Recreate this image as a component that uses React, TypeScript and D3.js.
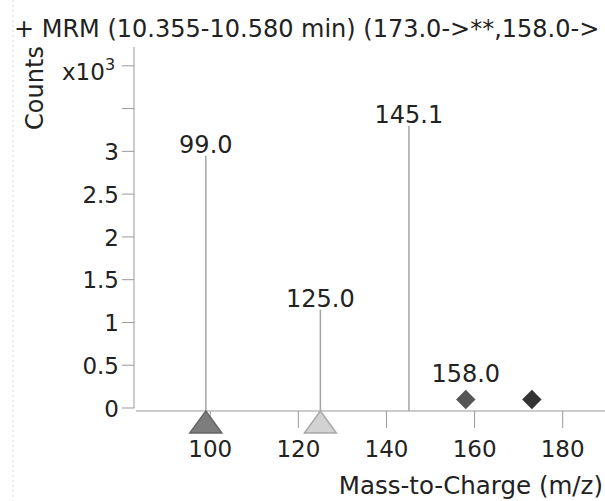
import React, { useEffect, useRef } from 'react';
import * as d3 from 'd3';

// spectrum peaks (m/z, counts x10^3)
const peakMz = [99.0, 125.0, 145.1];
const peakCounts = [2.95, 1.15, 3.3];
const peakLabels = ['99.0', '125.0', '145.1'];

// precursor / product markers
const triangleMz = [99.0, 125.0];
const triangleFill = ['#7d7d7d', '#d2d2d2'];
const triangleStroke = ['#666666', '#a8a8a8'];
const diamondMz = [158.0, 173.0];
const diamondCounts = [0.1, 0.1];
const diamondLabels = ['158.0', ''];
const diamondFill = ['#555555', '#333333'];

const xTicks = [100, 120, 140, 160, 180];
const yTicks = [0, 0.5, 1, 1.5, 2, 2.5, 3, 3.5, 4];
const yTickLabels = ['0', '0.5', '1', '1.5', '2', '2.5', '3', '', ''];

// title as far as it is visible in the panel
const title = '+ MRM (10.355-10.580 min) (173.0->**,158.0->';

const W = 605;
const H = 501;
const FONT = 'DejaVu Sans, Verdana, sans-serif';

// wide flat triangle sitting under the axis
const flatTriangle = {
  draw(ctx: any) {
    ctx.moveTo(0, -11);
    ctx.lineTo(16, 11);
    ctx.lineTo(-16, 11);
    ctx.closePath();
  }
};

export default function App() {
  const ref = useRef<SVGSVGElement | null>(null);

  useEffect(() => {
    const svg = d3.select(ref.current);
    svg.selectAll('*').remove();

    const x = d3.scaleLinear().domain([82.7, 189.6]).range([134, 605]);
    const y = d3.scaleLinear().domain([0, 4.22]).range([408, 47]);
    const axisY = 411;

    // faint dotted frame line on the left
    svg.append('line')
      .attr('x1', 13).attr('x2', 13)
      .attr('y1', 0).attr('y2', H)
      .attr('stroke', '#d8d8d8')
      .attr('stroke-dasharray', '2,3');

    svg.append('text')
      .attr('x', 14).attr('y', 37)
      .attr('font-size', 24)
      .attr('font-family', FONT)
      .attr('fill', '#222')
      .text(title);

    // y axis
    const g = svg.append('g');
    g.append('line')
      .attr('x1', 134).attr('x2', 134)
      .attr('y1', y(4.22)).attr('y2', y(0))
      .attr('stroke', '#999');
    yTicks.forEach((t, i) => {
      g.append('line')
        .attr('x1', 122).attr('x2', 134)
        .attr('y1', y(t)).attr('y2', y(t))
        .attr('stroke', '#999');
      if (yTickLabels[i]) {
        g.append('text')
          .attr('x', 119).attr('y', y(t))
          .attr('dy', '0.38em')
          .attr('text-anchor', 'end')
          .attr('font-size', 23)
          .attr('font-family', FONT)
          .attr('fill', '#222')
          .text(yTickLabels[i]);
      }
    });

    const mult = g.append('text')
      .attr('x', 62).attr('y', 80)
      .attr('font-size', 23)
      .attr('font-family', FONT)
      .attr('fill', '#222');
    mult.append('tspan').text('x10');
    mult.append('tspan').attr('font-size', 16).attr('dy', -10).text('3');

    g.append('text')
      .attr('transform', 'translate(43,88) rotate(-90)')
      .attr('text-anchor', 'middle')
      .attr('font-size', 24)
      .attr('font-family', FONT)
      .attr('fill', '#222')
      .text('Counts');

    // x axis
    g.append('line')
      .attr('x1', 136).attr('x2', W)
      .attr('y1', axisY).attr('y2', axisY)
      .attr('stroke', '#999');
    xTicks.forEach(t => {
      g.append('line')
        .attr('x1', x(t)).attr('x2', x(t))
        .attr('y1', axisY).attr('y2', axisY + 17)
        .attr('stroke', '#999');
      g.append('text')
        .attr('x', x(t)).attr('y', 457)
        .attr('text-anchor', 'middle')
        .attr('font-size', 23)
        .attr('font-family', FONT)
        .attr('fill', '#222')
        .text(String(t));
    });
    g.append('text')
      .attr('x', 603).attr('y', 494)
      .attr('text-anchor', 'end')
      .attr('font-size', 24.5)
      .attr('font-family', FONT)
      .attr('fill', '#222')
      .text('Mass-to-Charge (m/z)');

    // peaks
    const peaks = svg.append('g');
    peakMz.forEach((m, i) => {
      peaks.append('line')
        .attr('x1', x(m)).attr('x2', x(m))
        .attr('y1', axisY).attr('y2', y(peakCounts[i]))
        .attr('stroke', '#a4a4a4')
        .attr('stroke-width', 1.5);
      peaks.append('text')
        .attr('x', x(m)).attr('y', y(peakCounts[i]) - 3)
        .attr('text-anchor', 'middle')
        .attr('font-size', 24)
        .attr('font-family', FONT)
        .attr('fill', '#222')
        .text(peakLabels[i]);
    });

    // triangles at the axis
    const tri = d3.symbol().type(flatTriangle as any);
    triangleMz.forEach((m, i) => {
      peaks.append('path')
        .attr('d', tri())
        .attr('transform', `translate(${x(m)},${axisY + 11})`)
        .attr('fill', triangleFill[i])
        .attr('stroke', triangleStroke[i])
        .attr('stroke-width', 1.5);
    });

    // diamonds
    const dia = d3.symbol().type(d3.symbolDiamond2).size(240);
    diamondMz.forEach((m, i) => {
      peaks.append('path')
        .attr('d', dia())
        .attr('transform', `translate(${x(m)},${y(diamondCounts[i])})`)
        .attr('fill', diamondFill[i]);
      if (diamondLabels[i]) {
        peaks.append('text')
          .attr('x', x(m)).attr('y', y(diamondCounts[i]) - 17)
          .attr('text-anchor', 'middle')
          .attr('font-size', 24)
          .attr('font-family', FONT)
          .attr('fill', '#222')
          .text(diamondLabels[i]);
      }
    });
  }, []);

  return (
    <svg
      ref={ref}
      width={W}
      height={H}
      style={{ position: 'absolute', left: 0, top: 0, background: '#fff' }}
    />
  );
}
